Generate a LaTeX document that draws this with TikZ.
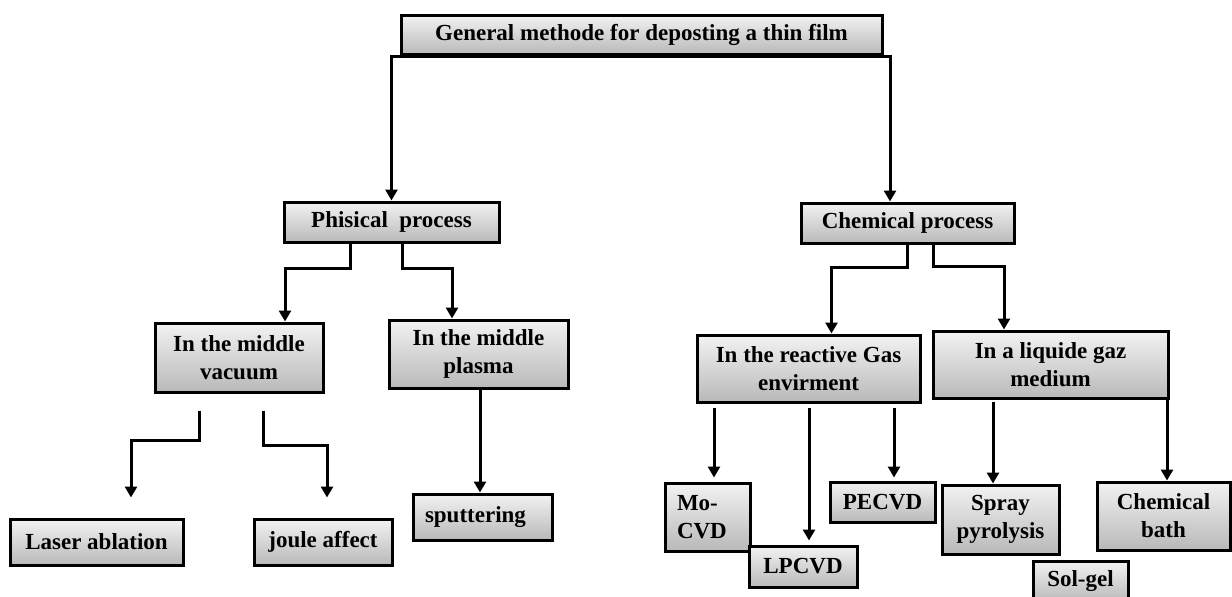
\documentclass[tikz,border=0pt]{standalone}
\usepackage{fontspec}
\setmainfont{Liberation Serif}
\usetikzlibrary{arrows.meta}

\begin{document}
\begin{tikzpicture}[x=1pt,y=1pt]
\tikzstyle {bx}=[rectangle, draw=black, line width=3pt, top color=gray!10, bottom color=gray!55, font=\fontsize{23}{28}\selectfont\bfseries, align=center, inner sep=0pt]
\tikzstyle {bxl}=[bx, align=left, inner xsep=12pt]
\tikzstyle {ln}=[line width=3pt]
\tikzstyle {ar}=[ln, -{Triangle[length=11pt,width=12pt]}]
\tikzstyle {ar2}=[ln, {Triangle[length=11pt,width=12pt]}-{Triangle[length=11pt,width=12pt]}]
\useasboundingbox (0,0) rectangle (1232,-597);
\clip (0,0) rectangle (1232,-597);
\node (top) [bx, minimum width=481, minimum height=39] at (641.5,-34.5) {General methode for deposting a thin film};
\node (phy) [bx, minimum width=215, minimum height=40] at (391.5,-222) {Phisical\ \ process};
\node (chem) [bx, minimum width=213, minimum height=40] at (907.5,-223) {Chemical process};
\node (vac) [bx, minimum width=168, minimum height=69] at (239,-357.5) {In the middle\\vacuum};
\node (pla) [bx, minimum width=179, minimum height=68] at (478.5,-354) {In the middle\\plasma};
\node (gas) [bx, minimum width=223, minimum height=67] at (808.5,-368.5) {In the reactive Gas\\envirment};
\node (liq) [bx, minimum width=235, minimum height=67] at (1050.5,-364.5) {In a liquide gaz\\medium};
\node (las) [bx, minimum width=173, minimum height=46] at (96.5,-542) {Laser ablation};
\node (jou) [bx, minimum width=138, minimum height=46] at (323,-542) {joule affect};
\node (spu) [bxl, text width=115, minimum height=46] at (482.5,-517) {sputtering};
\node (mo) [bxl, text width=61, minimum height=68] at (707.5,-517) {Mo-\\CVD};
\node (lp) [bx, minimum width=108, minimum height=41] at (803,-566.5) {LPCVD};
\node (pe) [bx, minimum width=105, minimum height=40] at (882.5,-502) {PECVD};
\node (spr) [bx, minimum width=117, minimum height=69] at (1000.5,-519.5) {Spray\\pyrolysis};
\node (bat) [bx, minimum width=133, minimum height=68] at (1163.5,-516) {Chemical\\bath};
\node (sol) [bx, minimum width=95, minimum height=41] at (1080.5,-581.5) {Sol-gel};
\coordinate (tr) at (890,-56);
\draw[ar2] (phy.north) |- (tr) -- (tr |- chem.north);
\draw[ar] ([xshift=-41.5]phy.south) -- ++(0,-25) -| ([xshift=46]vac.north);
\draw[ar] ([xshift=10.5]phy.south) -- ++(0,-25) -| ([xshift=-26.5]pla.north);
\draw[ar] (chem.south) -- ++(0,-23) -| ([xshift=23]gas.north);
\draw[ar] ([xshift=25.5]chem.south) -- ++(0,-22) -| ([xshift=-46.5]liq.north);
\draw[ar] ([xshift=-40,yshift=-17]vac.south) -- ++(0,-30) -| ([xshift=34.5,yshift=20]las.north);
\draw[ar] ([xshift=24,yshift=-17]vac.south) -- ++(0,-35) -| ([xshift=4,yshift=20]jou.north);
\draw[ar] ([xshift=1.5]pla.south) -- ([xshift=-2.5]spu.north);
\draw[ar] ([xshift=-94.5,yshift=-4]gas.south) -- ([xshift=6.5,yshift=4]mo.north);
\draw[ar] ([xshift=0.5,yshift=-4]gas.south) -- ([xshift=6,yshift=4]lp.north);
\draw[ar] ([xshift=85.5,yshift=-4]gas.south) -- ([xshift=11.5,yshift=3]pe.north);
\draw[ar] ([xshift=-57.5,yshift=-2]liq.south) -- ([xshift=-7.5]spr.north);
\draw[ar] ([xshift=116.5]liq.south) -- ([xshift=3.5]bat.north);
\end{tikzpicture}
\end{document}
